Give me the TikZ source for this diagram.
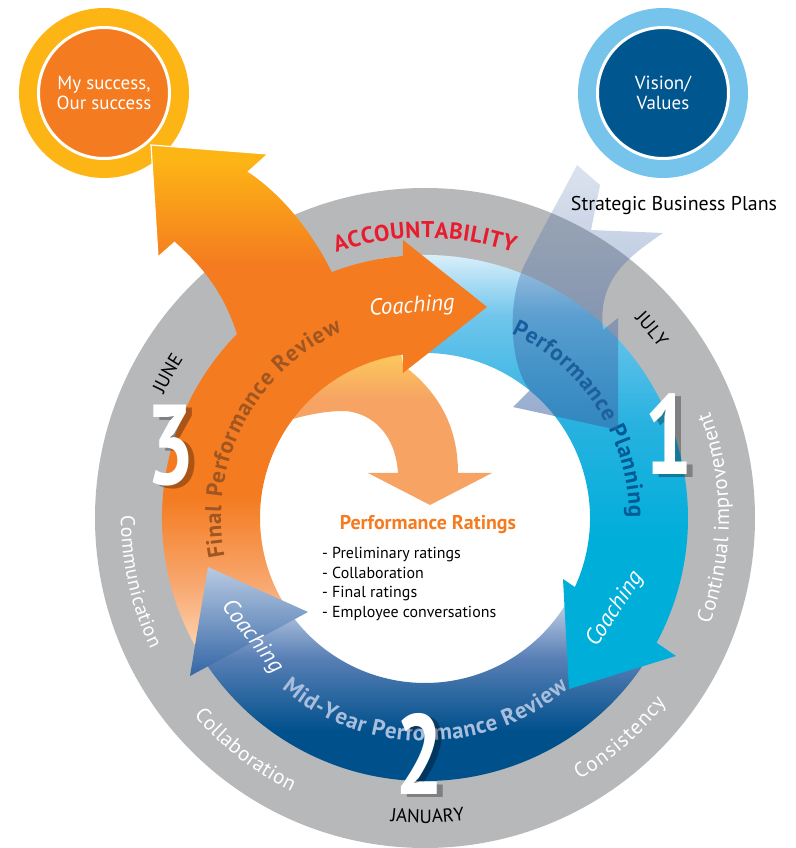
\documentclass[tikz,border=0pt]{standalone}
\usepackage{fontspec}
\setmainfont{PT Sans}
\usetikzlibrary{positioning,decorations.text,fadings}

\definecolor{ringgray}{RGB}{183,184,186}
\definecolor{accred}{RGB}{232,28,46}
\definecolor{orangeM}{RGB}{244,123,32}
\definecolor{orangeY}{RGB}{253,181,21}
\definecolor{peach}{RGB}{253,212,176}
\definecolor{peachM}{RGB}{248,168,112}
\definecolor{ratelo}{RGB}{246,163,100}
\definecolor{ratehi}{RGB}{252,196,92}
\definecolor{cyanM}{RGB}{0,174,218}
\definecolor{cyanMid}{RGB}{40,178,224}
\definecolor{cyanL}{RGB}{112,197,236}
\definecolor{cyanW}{RGB}{225,242,251}
\definecolor{blueD}{RGB}{0,80,140}
\definecolor{blueM}{RGB}{90,128,182}
\definecolor{blueL}{RGB}{196,210,232}
\definecolor{headlo}{RGB}{52,102,166}
\definecolor{headhi}{RGB}{184,202,226}
\definecolor{visionL}{RGB}{118,195,236}
\definecolor{visionD}{RGB}{0,86,143}
\definecolor{ribbon}{RGB}{60,100,165}
\definecolor{finaltxt}{RGB}{160,86,32}
\definecolor{plantxt}{RGB}{0,90,150}
\definecolor{midtxt}{RGB}{168,190,220}

\pgfdeclareverticalshading{finalband}{100bp}{color(0bp)=(peach); color(26bp)=(peach); color(34bp)=(peachM); color(45bp)=(orangeM); color(100bp)=(orangeM)}
\pgfdeclareverticalshading{successarrow}{100bp}{color(0bp)=(orangeM); color(48bp)=(orangeM); color(72bp)=(orangeY); color(100bp)=(orangeY)}
\pgfdeclareverticalshading{ratingarrow}{100bp}{color(0bp)=(ratelo); color(53bp)=(ratelo); color(64bp)=(ratehi); color(100bp)=(ratehi)}
\pgfdeclareverticalshading{midband}{100bp}{color(0bp)=(blueD); color(45bp)=(blueD); color(62bp)=(blueM); color(75bp)=(blueL); color(100bp)=(blueL)}
\pgfdeclareverticalshading{midhead}{100bp}{color(0bp)=(headlo); color(25bp)=(headlo); color(75bp)=(headhi); color(100bp)=(headhi)}
\pgfdeclareverticalshading{planband}{100bp}{color(0bp)=(cyanM); color(38bp)=(cyanM); color(52bp)=(cyanMid); color(65bp)=(cyanL); color(73bp)=(cyanW); color(100bp)=(white)}
\tikzfading[name=ribbonfade, top color=transparent!82, bottom color=transparent!45]

\tikzset{
ring/.style={
    circle,
    inner sep=0pt,
    minimum size=170bp
},
hub/.style={
    circle,
    draw=white,
    line width=3bp,
    minimum size=131bp,
    inner sep=0pt,
    text=white,
    align=center,
    font=\fontsize{19}{20}\selectfont
},
bignum/.style={
    inner sep=0pt,
    text=white,
    font=\fontsize{114}{114}\selectfont\bfseries
},
numshade/.style={
    bignum,
    text=black,
    text opacity=0.3
},
coaching/.style={
    text=white,
    font=\fontsize{23}{23}\selectfont\itshape
},
pathtext/.style={
    decorate,
    decoration={text along path, text align=fit to path, text={#1}}
},
monthtext/.style={
    decorate,
    decoration={text along path, text align=center, text={|\fontsize{19}{19}\selectfont|#1}}
}}

\begin{document}
\begin{tikzpicture}[x=1bp,y=1bp]
\useasboundingbox (-425,-330) rectangle (371,518);

% outer ring
\fill[ringgray, even odd rule] (0,0) circle[radius=330] (0,0) circle[radius=262];

% goal circles
\node[ring, fill=orangeY] (successring) at (-321,425) {};
\node[hub, fill=orangeM]  (success)     at (successring) {My success,\\Our success};
\node[ring, fill=visionL] (visionring)  at (238,425) {};
\node[hub, fill=visionD]  (vision)      at (visionring) {Vision/\\Values};

% arrow into the centre
\shade[shading=ratingarrow] (-27,45) .. controls (-30,90) and (-60,108) .. (-85,107)
    .. controls (-110,106) and (-130,100) .. (-155,92) -- (-120,190) -- (-30,200) -- (-22,153)
    .. controls (15,125) and (33,90) .. (33,45) -- (67,45) -- (5,13) -- (-57,45) -- cycle;

% arrow out to "My success"
\shade[shading=successarrow] (-177,346) .. controls (-135,318) and (-95,265) .. (-75,200)
    -- (-180,150) .. controls (-190,210) and (-215,245) .. (-250,276)
    -- (-267,261) -- (-274,373) -- (-157,364) -- cycle;
\draw[white, line width=1.2bp] (-250,276) -- (-267,261) -- (-274,373) -- (-157,364) -- (-177,346);

% cycle bands
\shade[shading=midband] (-30:263) arc[start angle=-30, end angle=-146, radius=263]
    -- (-142.5:165) arc[start angle=-142.5, end angle=-30, radius=165] -- cycle;
\shade[shading=planband] (100:263) arc[start angle=100, end angle=-29, radius=263]
    -- (-25:165) arc[start angle=-25, end angle=100, radius=165] -- cycle;
\fill[cyanM] (138,-61) -- (251,-138) -- (144,-171) -- cycle;
\shade[shading=finalband] (212:263) arc[start angle=212, end angle=94, radius=263]
    -- (94:165) arc[start angle=94, end angle=212, radius=165] -- cycle;
\shade[shading=midhead] (-117,-94) -- (-235,-158) -- (-217,-49) -- cycle;
\fill[orangeM] (-22,278) -- (62,211) -- (-22,145) -- cycle;

% band labels
\path[pathtext={|\fontsize{23}{23}\selectfont\bfseries\color{finaltxt}|Final Performance Review}]
    (191:204) arc[start angle=191, end angle=114, radius=204];
\path[pathtext={|\fontsize{23}{23}\selectfont\bfseries\color{plantxt}|Performance Planning}]
    (65:204) arc[start angle=65, end angle=0, radius=204];
\path[pathtext={|\fontsize{23}{23}\selectfont\bfseries\color{midtxt}|Mid-Year Performance Review}]
    (-130:223) arc[start angle=-130, end angle=-50, radius=223];

\node[coaching, rotate=4]   (coach3) at (-13,211)   {Coaching};
\node[coaching, rotate=57]  (coach1) at (190,-91)   {Coaching};
\node[coaching, rotate=-52] (coach2) at (-173,-119) {Coaching};

% ring labels
\path[pathtext={|\fontsize{23}{23}\selectfont\bfseries\color{accred}|ACCOUNTABILITY}]
    (108.5:280) arc[start angle=108.5, end angle=71.5, radius=280];
\path[monthtext=JULY]    (60:289) arc[start angle=60, end angle=19.5, radius=289];
\path[monthtext=JUNE]    (171:289) arc[start angle=171, end angle=130.5, radius=289];
\path[monthtext=JANUARY] (-110:305) arc[start angle=-110, end angle=-69, radius=305];
\path[pathtext={|\fontsize{21}{21}\selectfont\color{white}|Continual improvement}]
    (-20.5:304) arc[start angle=-20.5, end angle=20.5, radius=304];
\path[pathtext={|\fontsize{21}{21}\selectfont\color{white}|Consistency}]
    (-59.5:304) arc[start angle=-59.5, end angle=-37.5, radius=304];
\path[pathtext={|\fontsize{21}{21}\selectfont\color{white}|Collaboration}]
    (-139.5:304) arc[start angle=-139.5, end angle=-116, radius=304];
\path[pathtext={|\fontsize{20}{20}\selectfont\color{white}|Communication}]
    (179.5:304) arc[start angle=179.5, end angle=205.5, radius=304];

% strategic plans
\fill[ribbon, path fading=ribbonfade] (152,353) -- (175,333) -- (166,288) -- (238,285)
    .. controls (205,262) and (172,240) .. (178,188) -- (193,200) -- (193,88) -- (88,111) -- (105,128)
    .. controls (85,150) and (80,220) .. (102,258) .. controls (115,285) and (135,320) .. (152,353) -- cycle;
\node[anchor=base, font=\fontsize{20}{20}\selectfont] (plans) at (249,307) {Strategic Business Plans};

% centre text
\node[anchor=base, text=orangeM, font=\fontsize{20}{20}\selectfont\bfseries] (ratings) at (3,-11) {Performance Ratings};
\node[anchor=north west, inner sep=0pt, align=left, font=\fontsize{16}{19.7}\selectfont] (ratinglist) at (-103,-29)
    {- Preliminary ratings\\- Collaboration\\- Final ratings\\- Employee conversations};

% step numbers
\node[numshade, xshift=6bp, yshift=-3bp] (one-sh)   at (244,84)  {\scalebox{0.75}[1]{1}};
\node[numshade, xshift=6bp, yshift=-3bp] (two-sh)   at (-5,-236) {\scalebox{0.75}[1]{2}};
\node[numshade, xshift=6bp, yshift=-3bp] (three-sh) at (-254,72) {\scalebox{0.75}[1]{3}};
\node[bignum] (one)   at (244,84)  {\scalebox{0.75}[1]{1}};
\node[bignum] (two)   at (-5,-236) {\scalebox{0.75}[1]{2}};
\node[bignum] (three) at (-254,72) {\scalebox{0.75}[1]{3}};
\end{tikzpicture}
\end{document}
